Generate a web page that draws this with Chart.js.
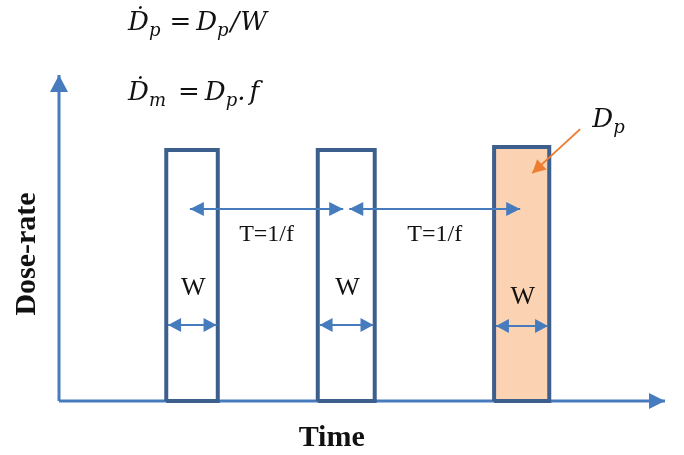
<!DOCTYPE html>
<html>
<head>
<meta charset="utf-8">
<script src="https://cdn.jsdelivr.net/npm/chart.js@4"></script>
<style>
  body { margin: 0; background: #fff; }
  #wrap { width: 684px; height: 455px; }
</style>
</head>
<body>
<div id="wrap"><canvas id="grafico"></canvas></div>
<script>
// pulses (time units 0..100, dose-rate units 0..100)
const pulseStart = [17.7, 42.7, 71.8];
const pulseEnd = [26.2, 52.1, 80.9];
const pulseHeight = [77.0, 77.0, 77.9];
const pulseFilled = [false, false, true];

// period arrows T = 1/f
const periodStart = [21.6, 47.9];
const periodEnd = [46.9, 76.1];
const periodLevel = 58.9;
const periodLabels = ['T=1/f', 'T=1/f'];

// pulse width arrows
const widthLevel = [23.3, 23.3, 23.0];
const widthLabelLevel = [34.7, 34.7, 31.9];
const widthLabel = 'W';

// pointer to the pulse dose
const doseFrom = { x: 86.0, y: 83.4 };
const doseTo = { x: 78.1, y: 69.9 };

const corBarra = '#3d5f8d';
const corSeta = '#467cbe';
const corLaranja = '#ed7d31';
const corPreenchimento = '#fbd3b3';

function segmento(pontos, cor, largura, pontas) {
    return {
        data: pontos,
        borderColor: cor,
        borderWidth: largura,
        pointRadius: 0,
        fill: false,
        tension: 0,
        clip: false,
        heads: pontas
    };
}

const datasets = [];

// pulses
pulseStart.forEach((x0, i) => {
    const x1 = pulseEnd[i];
    const h = pulseHeight[i];
    if (pulseFilled[i]) {
        datasets.push({
            data: [{ x: x0, y: 0 }, { x: x0, y: h }, { x: x1, y: h }, { x: x1, y: 0 }],
            borderWidth: 0,
            borderColor: 'rgba(0,0,0,0)',
            backgroundColor: corPreenchimento,
            pointRadius: 0,
            fill: 'origin',
            clip: false,
            order: 5
        });
    }
    const ds = segmento([{ x: x0, y: 0 }, { x: x0, y: h }, { x: x1, y: h }, { x: x1, y: 0 }, { x: x0, y: 0 }], corBarra, 4);
    ds.borderJoinStyle = 'miter';
    ds.order = 2;
    datasets.push(ds);
});

// axes
datasets.push(Object.assign(segmento([{ x: 0, y: 0 }, { x: 0, y: 100 }], corSeta, 3, { end: true, len: 17, half: 9 }), { order: 3 }));
datasets.push(Object.assign(segmento([{ x: 0, y: 0 }, { x: 100, y: 0 }], corSeta, 3, { end: true, len: 16, half: 8 }), { order: 3 }));

// period arrows
periodStart.forEach((x0, i) => {
    datasets.push(Object.assign(segmento([{ x: x0, y: periodLevel }, { x: periodEnd[i], y: periodLevel }], corSeta, 2,
        { start: true, end: true, len: 14, half: 7 }), { order: 1 }));
});

// width arrows
pulseStart.forEach((x0, i) => {
    datasets.push(Object.assign(segmento([{ x: x0 + 0.3, y: widthLevel[i] }, { x: pulseEnd[i] - 0.2, y: widthLevel[i] }], corSeta, 2,
        { start: true, end: true, len: 13, half: 7 }), { order: 1 }));
});

// dose pointer
datasets.push(Object.assign(segmento([doseFrom, doseTo], corLaranja, 2, { end: true, len: 13, half: 7 }), { order: 1 }));

function ponta(ctx, a, b, len, half, cor) {
    const ang = Math.atan2(b.y - a.y, b.x - a.x);
    const c = Math.cos(ang), s = Math.sin(ang);
    ctx.beginPath();
    ctx.moveTo(b.x, b.y);
    ctx.lineTo(b.x - len * c - half * s, b.y - len * s + half * c);
    ctx.lineTo(b.x - len * c + half * s, b.y - len * s - half * c);
    ctx.closePath();
    ctx.fillStyle = cor;
    ctx.fill();
}

const pontasPlugin = {
    id: 'pontas',
    afterDatasetsDraw(chart) {
        const ctx = chart.ctx;
        ctx.save();
        chart.data.datasets.forEach((ds, i) => {
            if (!ds.heads) return;
            const pts = chart.getDatasetMeta(i).data;
            const n = pts.length;
            if (ds.heads.end) ponta(ctx, pts[n - 2], pts[n - 1], ds.heads.len, ds.heads.half, ds.borderColor);
            if (ds.heads.start) ponta(ctx, pts[1], pts[0], ds.heads.len, ds.heads.half, ds.borderColor);
        });
        ctx.restore();
    }
};

const serif = "'Liberation Serif', 'DejaVu Serif', serif";
const mat = "'DejaVu Serif', serif";
const it = 'italic 26px ' + mat;
const sub = 'italic 18px ' + mat;
const reg = '26px ' + mat;

function escreverPartes(ctx, x, y, partes) {
    partes.forEach(p => {
        ctx.font = p[1];
        ctx.fillText(p[0], x, y + (p[2] || 0));
        x += ctx.measureText(p[0]).width + (p[3] || 0);
    });
}

const textosPlugin = {
    id: 'textos',
    afterDraw(chart) {
        const ctx = chart.ctx;
        const sx = chart.scales.x, sy = chart.scales.y;
        const px = v => sx.getPixelForValue(v);
        const py = v => sy.getPixelForValue(v);
        ctx.save();
        ctx.fillStyle = '#111';
        ctx.textAlign = 'center';
        ctx.textBaseline = 'middle';

        ctx.font = '24px ' + serif;
        periodLabels.forEach((t, i) => {
            ctx.fillText(t, px((periodStart[i] + periodEnd[i]) / 2), py(50.9));
        });

        ctx.font = '26px ' + serif;
        pulseStart.forEach((x0, i) => {
            ctx.fillText(widthLabel, px((x0 + pulseEnd[i]) / 2 + 0.2), py(widthLabelLevel[i]));
        });

        ctx.font = 'bold 30px ' + serif;
        ctx.fillText('Time', px(45.0), py(-11.3));
        ctx.save();
        ctx.translate(px(-5.3), py(45.1));
        ctx.rotate(-Math.PI / 2);
        ctx.fillText('Dose-rate', 0, 0);
        ctx.restore();

        ctx.textAlign = 'left';
        ctx.textBaseline = 'alphabetic';
        escreverPartes(ctx, px(88.0), py(84.0), [['D', it, 0, 0], ['p', sub, 6]]);

        escreverPartes(ctx, px(11.4), py(113.8), [
            ['Ḋ', it, 0, 0], ['p', sub, 6, 9], ['=', reg, 0, 5],
            ['D', it, 0, 0], ['p', sub, 6, 2], ['/', it, 0, 1], ['W', it]
        ]);
        escreverPartes(ctx, px(11.4), py(92.3), [
            ['Ḋ', it, 0, 0], ['m', sub, 6, 12], ['=', reg, 0, 5],
            ['D', it, 0, 0], ['p', sub, 6, 0], ['.', it, 0, 4], ['f', it]
        ]);
        ctx.restore();
    }
};

new Chart(document.getElementById('grafico'), {
    type: 'line',
    data: { datasets: datasets },
    options: {
        responsive: true,
        maintainAspectRatio: false,
        animation: false,
        layout: { padding: { left: 59, right: 19, top: 75, bottom: 54 } },
        scales: {
            x: { type: 'linear', min: 0, max: 100, display: false },
            y: { type: 'linear', min: 0, max: 100, display: false }
        },
        plugins: {
            legend: { display: false },
            tooltip: { enabled: false }
        }
    },
    plugins: [pontasPlugin, textosPlugin]
});
</script>
</body>
</html>
